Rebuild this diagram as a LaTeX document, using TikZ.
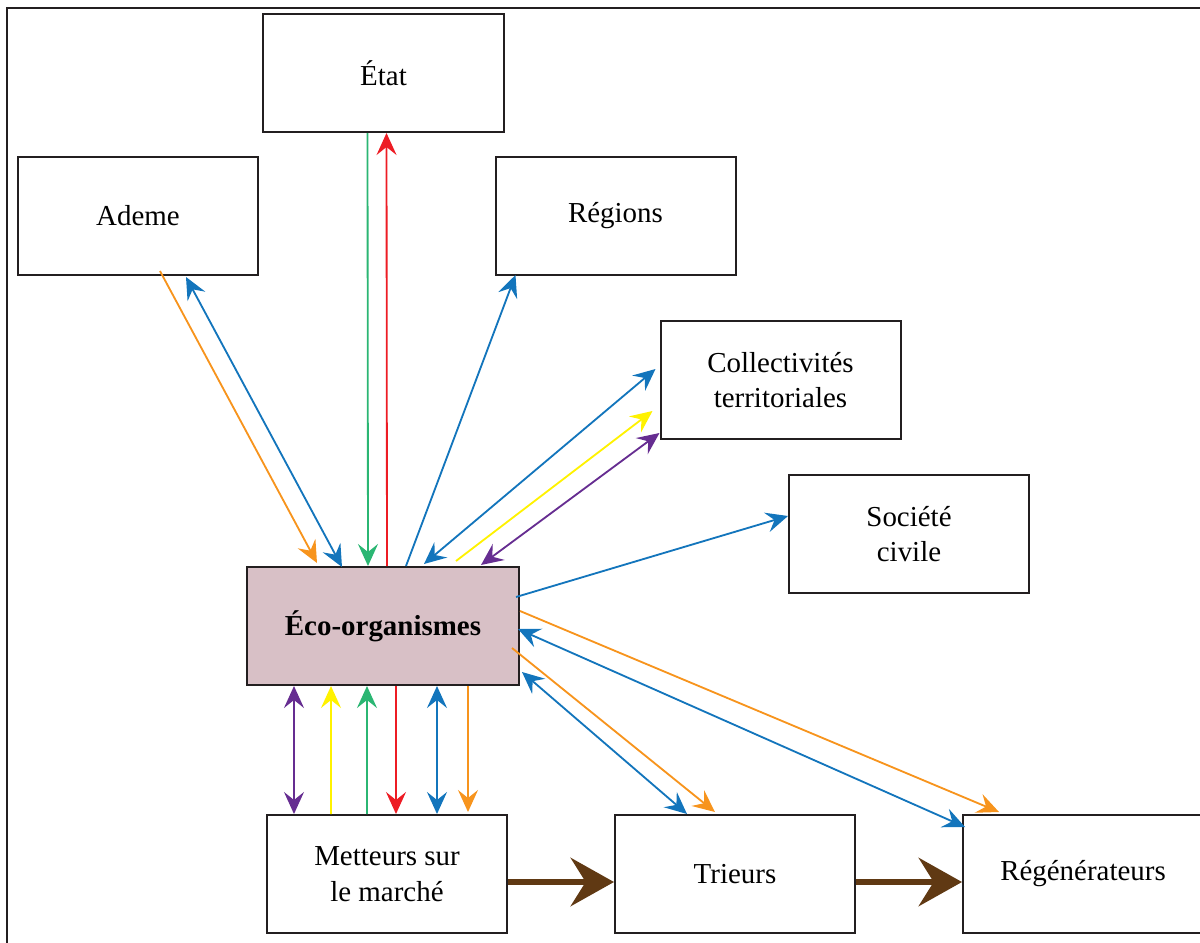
\documentclass[tikz,border=0pt]{standalone}
\usepackage{fontspec}
\setmainfont{Liberation Serif}
\usetikzlibrary{arrows.meta,calc}
\definecolor{trait}{HTML}{231F20}
\definecolor{ecofond}{HTML}{D8C0C6}
\definecolor{orangef}{HTML}{F7941D}
\definecolor{bleuf}{HTML}{1375BC}
\definecolor{vertf}{HTML}{2BB673}
\definecolor{rougef}{HTML}{ED1C24}
\definecolor{jaunef}{HTML}{FFF200}
\definecolor{violetf}{HTML}{662D91}
\definecolor{brunf}{HTML}{603913}
\begin{document}
\begin{tikzpicture}[x=0.03cm,y=-0.03cm,
  >={Stealth[length=0.66cm,width=0.6cm,inset=0.24cm]},
  acteur/.style={draw=trait,line width=0.06cm,minimum width=7.2cm,minimum height=3.54cm,
    inner sep=0pt,align=center,font=\fontsize{24.7}{30.6}\selectfont},
  flux/.style={line width=0.055cm},
  filiere/.style={draw=brunf,line width=0.18cm,-{Stealth[length=1.3cm,width=1.45cm,inset=0.45cm]}}]
\useasboundingbox (0,0) rectangle (1200,942);
\draw[trait,line width=0.06cm] (7,950) -- (7,8) -- (1210,8);
% acteurs
\node[acteur] (etat) at (383.5,73) {État};
\node[acteur] (ademe) at (138,216) {Ademe};
\node[acteur] (regions) at (615.5,216) {Régions};
\node[acteur] (coll) at (780.5,380) {Collectivités\\territoriales};
\node[acteur] (societe) at (909,534) {Société\\civile};
\node[acteur,fill=ecofond,minimum width=8.16cm,font=\fontsize{24.7}{30.6}\selectfont\bfseries] (eco) at (383,626) {Éco-organismes};
\node[acteur] (metteurs) at (387,874) {Metteurs sur\\le marché};
\node[acteur] (trieurs) at (735,874) {Trieurs};
\node[acteur] (regen) at (1083,874) {Régénérateurs};
% vers le haut
\draw[flux,orangef,->] ($(ademe.south west)+(143,-5)$) -- ($(eco.north west)+(71,-3)$);
\draw[flux,bleuf,<->] ($(ademe.south west)+(169,1)$) -- ($(eco.north west)+(96,1)$);
\draw[flux,vertf,->] ($(etat.south west)+(105,0)$) -- ($(eco.north west)+(122,0)$);
\draw[flux,rougef,->] ($(eco.north west)+(141,0)$) -- ($(etat.south west)+(124,0)$);
\draw[flux,bleuf,->] ($(eco.north west)+(160,0)$) -- ($(regions.south west)+(21,-1)$);
\draw[flux,bleuf,<->] ($(eco.north west)+(178,-2)$) -- ($(coll.south west)+(-4,-71)$);
\draw[flux,jaunef,->] ($(eco.north west)+(210,-5)$) -- ($(coll.south west)+(-7,-29)$);
\draw[flux,violetf,<->] ($(eco.north west)+(235,-1)$) -- ($(coll.south west)+(0,-7)$);
\draw[flux,bleuf,->] ($(eco.north east)+(-4,31)$) -- ($(societe.west)+(0,-18)$);
% vers l'aval
\draw[flux,orangef,->] ($(eco.north east)+(-8,82)$) -- ($(trieurs.north west)+(101,-2)$);
\draw[flux,bleuf,<->] ($(eco.north east)+(2,106)$) -- ($(trieurs.north west)+(73,0)$);
\draw[flux,orangef,->] ($(eco.north east)+(0,45)$) -- ($(regen.north west)+(37,-2)$);
\draw[flux,bleuf,<->] ($(eco.north east)+(-2,63)$) -- ($(regen.north west)+(3,13)$);
% metteurs sur le marche
\draw[flux,violetf,<->] ($(eco.south west)+(48,0)$) -- ($(metteurs.north west)+(28,0)$);
\draw[flux,jaunef,->] ($(metteurs.north west)+(65,0)$) -- ($(eco.south west)+(85,0)$);
\draw[flux,vertf,->] ($(metteurs.north west)+(101,0)$) -- ($(eco.south west)+(121,0)$);
\draw[flux,rougef,->] ($(eco.south west)+(150,0)$) -- ($(metteurs.north west)+(130,0)$);
\draw[flux,bleuf,<->] ($(eco.south west)+(191,0)$) -- ($(metteurs.north west)+(171,0)$);
\draw[flux,orangef,->] ($(eco.south west)+(222,0)$) -- ($(metteurs.north west)+(202,-2)$);
% filiere
\draw[filiere] ($(metteurs.east)+(0,8)$) -- ($(trieurs.west)+(0,8)$);
\draw[filiere] ($(trieurs.east)+(0,8)$) -- ($(regen.west)+(0,8)$);
\end{tikzpicture}
\end{document}
